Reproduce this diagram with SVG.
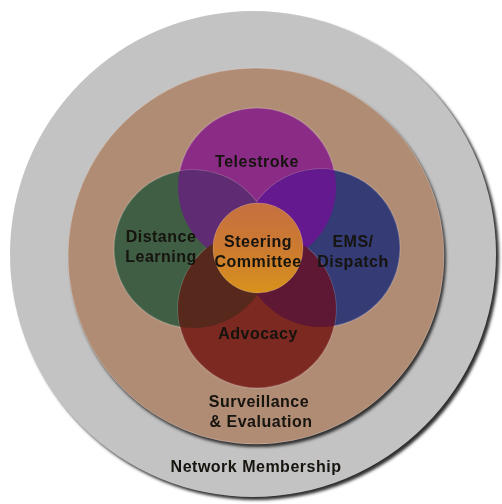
<svg xmlns="http://www.w3.org/2000/svg" width="502" height="504" viewBox="0 0 502 504">
<defs>
<style>
text{font-family:"Liberation Sans",Arial,sans-serif;font-weight:bold;font-size:16px;letter-spacing:0.5px;fill:#141210;text-anchor:middle}
.ring{stroke:rgba(255,255,255,0.18);stroke-width:1.5}
</style>
<filter id="sh" x="-10%" y="-10%" width="120%" height="120%"><feGaussianBlur stdDeviation="1.6"/></filter>
<filter id="tb" x="-5%" y="-20%" width="110%" height="140%"><feGaussianBlur stdDeviation="0.45"/></filter>
<linearGradient id="og" x1="0" y1="0" x2="0" y2="1">
<stop offset="0" stop-color="#c67040"/>
<stop offset="0.5" stop-color="#cc7a30"/>
<stop offset="1" stop-color="#d8921c"/>
</linearGradient>
<clipPath id="cT"><circle cx="257" cy="187" r="79"/></clipPath>
<clipPath id="cA"><circle cx="257" cy="309" r="79"/></clipPath>
</defs>
<g id="network-membership">
<circle cx="256" cy="257" r="243" fill="#2e2e2e" filter="url(#sh)"/>
<circle cx="253" cy="254" r="243" fill="#c3c3c3"/>
</g>
<g id="surveillance">
<circle cx="258" cy="259" r="188" fill="#2e2e2e" filter="url(#sh)"/>
<circle cx="256" cy="256" r="188" fill="#b18c75" stroke="rgba(255,255,255,0.25)" stroke-width="1"/>
</g>
<g id="telestroke"><circle class="ring" cx="257" cy="187" r="79" fill="#8a2c86"/></g>
<g id="distance-learning"><circle class="ring" cx="193" cy="249" r="79" fill="#405e43"/></g>
<g id="ems-dispatch"><circle class="ring" cx="321" cy="248" r="79" fill="#353c75"/></g>
<g id="advocacy"><circle class="ring" cx="257" cy="309" r="79" fill="#7c2922"/></g>
<g id="overlaps">
<circle cx="193" cy="249" r="79" fill="#5f2c73" clip-path="url(#cT)"/>
<circle cx="321" cy="248" r="79" fill="#65198e" clip-path="url(#cT)"/>
<circle cx="193" cy="249" r="79" fill="#57281c" clip-path="url(#cA)"/>
<circle cx="321" cy="248" r="79" fill="#5e1834" clip-path="url(#cA)"/>
</g>
<g id="steering-committee"><circle cx="258" cy="248" r="45" fill="url(#og)" stroke="rgba(255,255,255,0.2)" stroke-width="1"/></g>
<g id="labels" filter="url(#tb)">
<text x="257" y="167">Telestroke</text>
<text x="161" y="242">Distance</text>
<text x="161" y="262">Learning</text>
<text x="258" y="247">Steering</text>
<text x="258" y="267">Committee</text>
<text x="353" y="247">EMS/</text>
<text x="353" y="267">Dispatch</text>
<text x="258" y="339">Advocacy</text>
<text x="259" y="407">Surveillance</text>
<text x="261" y="427">&amp; Evaluation</text>
<text x="256" y="472">Network Membership</text>
</g>
</svg>
